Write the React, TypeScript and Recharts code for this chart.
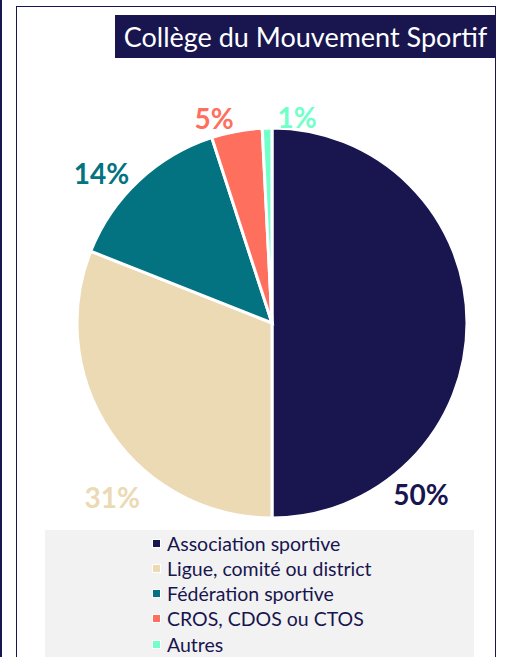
import React from "react";
import { PieChart, Pie, Cell, Legend } from "recharts";

const categories = [
  "Association sportive",
  "Ligue, comité ou district",
  "Fédération sportive",
  "CROS, CDOS ou CTOS",
  "Autres",
];
const shares = [50, 31, 14, 4.2, 0.8];
const shareLabels = ["50%", "31%", "14%", "5%", "1%"];
const colors = ["#18154F", "#EBDAB4", "#037382", "#FF6F5E", "#73FFCA"];

const data = categories.map((name, i) => ({ name, value: shares[i] }));

// label placement (angle clockwise from 12 o'clock, distance from centre)
const labelAngle = [139, 222.6, 311.3, 344.2, 6.9];
const labelRadius = [227, 236, 227, 213, 208];

const NAVY = "#18154F";
const FONT = "Lato, 'Open Sans', sans-serif";

const renderLabel = (props: any) => {
  const { cx, cy, index } = props;
  const a = (labelAngle[index] * Math.PI) / 180;
  const r = labelRadius[index];
  const x = cx + r * Math.sin(a);
  const y = cy - r * Math.cos(a);
  return (
    <text
      x={x}
      y={y}
      fill={colors[index]}
      textAnchor="middle"
      dominantBaseline="central"
      fontFamily={FONT}
      fontWeight={700}
      fontSize={28}
    >
      {shareLabels[index]}
    </text>
  );
};

const renderLegend = () => (
  <div
    style={{
      position: "absolute",
      left: 45,
      top: 530,
      width: 429,
      height: 140,
      background: "#F2F2F2",
    }}
  >
    {categories.map((c, i) => (
      <div
        key={c}
        style={{
          position: "absolute",
          left: 107,
          top: 1 + i * 25.3,
          height: 24,
          display: "flex",
          alignItems: "center",
          fontFamily: FONT,
          fontSize: 19.5,
          color: NAVY,
          whiteSpace: "nowrap",
        }}
      >
        <span
          style={{
            display: "inline-block",
            width: 7,
            height: 7,
            background: colors[i],
            border: "1.5px solid #FFFFFF",
            marginRight: 6,
          }}
        />
        {c}
      </div>
    ))}
  </div>
);

export default function App() {
  return (
    <div
      style={{
        position: "absolute",
        left: 0,
        top: 0,
        width: 505,
        height: 657,
        background: "#FFFFFF",
        overflow: "hidden",
      }}
    >
      <div
        style={{
          position: "absolute",
          left: 0,
          top: -10,
          width: 1.5,
          height: 700,
          background: NAVY,
        }}
      />
      <div
        style={{
          position: "absolute",
          left: 16,
          top: 6,
          width: 478,
          height: 700,
          border: `1.5px solid ${NAVY}`,
        }}
      />
      <div
        style={{
          position: "absolute",
          left: 115,
          top: 15,
          width: 381,
          height: 43,
          background: NAVY,
          color: "#FFFFFF",
          fontFamily: FONT,
          fontSize: 27,
          lineHeight: "43px",
          textAlign: "center",
          whiteSpace: "nowrap",
        }}
      >
        Collège du Mouvement Sportif
      </div>
      <div style={{ position: "absolute", left: 0, top: 0 }}>
        <PieChart width={505} height={657} margin={{ top: 0, right: 0, bottom: 0, left: 0 }}>
          <Pie
            data={data}
            dataKey="value"
            nameKey="name"
            cx={272}
            cy={323}
            outerRadius={195}
            startAngle={90}
            endAngle={-270}
            stroke="#FFFFFF"
            strokeWidth={3}
            label={renderLabel}
            labelLine={false}
            isAnimationActive={false}
          >
            {data.map((d, i) => (
              <Cell key={d.name} fill={colors[i]} />
            ))}
          </Pie>
          <Legend content={renderLegend} wrapperStyle={{ position: "absolute", left: 0, top: 0, width: 0, height: 0 }} />
        </PieChart>
      </div>
    </div>
  );
}
